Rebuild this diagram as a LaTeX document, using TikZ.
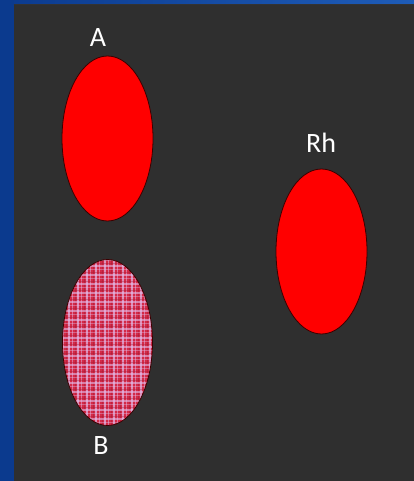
\documentclass[tikz,border=0pt]{standalone}
\usepackage{fontspec}
\setmainfont{Carlito}
\definecolor{bgGray}{HTML}{2F2F2F}
\definecolor{blueA}{HTML}{0B3A8E}
\definecolor{blueB}{HTML}{1E5CB8}
\definecolor{redFill}{HTML}{FF0000}
\definecolor{edgeDark}{HTML}{3A0000}
\definecolor{plaidBase}{HTML}{D42A48}
\definecolor{plaidLight}{HTML}{E2BCEA}
\definecolor{plaidDark}{HTML}{A01A36}
\tikzset{
  blob/.style={ellipse, draw=edgeDark, line width=0.8pt, fill=redFill, minimum width=91pt, minimum height=165pt, inner sep=0pt},
  lbl/.style={text=white, font=\fontsize{28}{30}\selectfont, inner sep=0pt},
}
\usetikzlibrary{shapes.geometric}
\begin{document}
\begin{tikzpicture}[x=1pt,y=-1pt]
\useasboundingbox (0,0) rectangle (414,481);
% background
\shade[left color=blueA, right color=blueB] (0,0) rectangle (414,481);
\fill[blueA] (0,0) rectangle (13.5,481);
\fill[bgGray] (13.5,4) rectangle (414,481);
\draw[black!80, line width=0.8pt] (13.5,4.2) -- (414,4.2);
% ellipses
\node[blob] (ea) at (107.5,138.5) {};
\node[blob] (erh) at (321.5,251.5) {};
% plaid ellipse B
\begin{scope}
  \clip (107.5,342.5) ellipse [x radius=45pt, y radius=83pt];
  \fill[plaidBase] (60,257) rectangle (155,428);
  \foreach \x in {60,69,...,156} {
    \draw[plaidLight, opacity=0.7, line width=1.5pt] (\x,257) -- (\x,428);
    \draw[plaidLight, opacity=0.5, line width=0.7pt] (\x+3,257) -- (\x+3,428);
    \draw[plaidDark, opacity=0.45, line width=1.0pt] (\x+6,257) -- (\x+6,428);
  }
  \foreach \y in {257,266,...,429} {
    \draw[plaidLight, opacity=0.6, line width=1.5pt] (60,\y) -- (155,\y);
    \draw[plaidLight, opacity=0.4, line width=0.7pt] (60,\y+3) -- (155,\y+3);
    \draw[plaidDark, opacity=0.35, line width=1.0pt] (60,\y+6) -- (155,\y+6);
  }
\end{scope}
\node[ellipse, draw=edgeDark, line width=0.8pt, minimum width=90pt, minimum height=166pt, inner sep=0pt] (eb) at (107.5,342.5) {};
% labels
\node[lbl] (la) at (98,38) {A};
\node[lbl] (lb) at (101,446) {B};
\node[lbl] (lrh) at (321,143) {Rh};
\end{tikzpicture}
\end{document}
